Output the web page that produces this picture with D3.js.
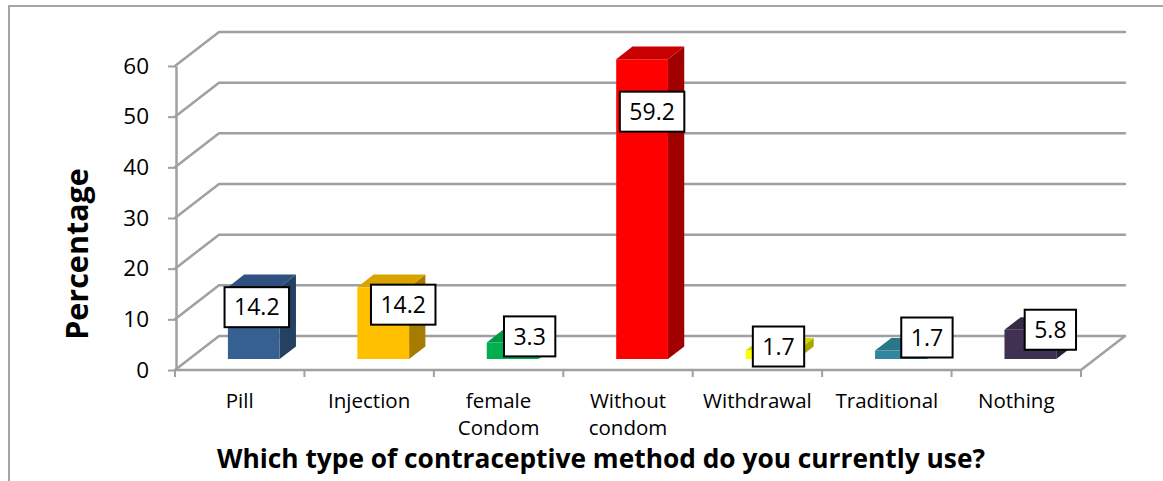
<!DOCTYPE html>
<html>
<head>
<meta charset="utf-8">
<script src="https://cdn.jsdelivr.net/npm/d3@7"></script>
<style>
  html, body { margin: 0; padding: 0; background: #fff; }
  svg { display: block; font-family: "Open Sans", Lato, sans-serif; }
</style>
</head>
<body>
<svg id="chart" width="1163" height="481"></svg>
<script>
// ---- data ----
const categories = ["Pill", "Injection", "female Condom", "Without condom", "Withdrawal", "Traditional", "Nothing"];
const values = [14.2, 14.2, 3.3, 59.2, 1.7, 1.7, 5.8];
const yTicks = [0, 10, 20, 30, 40, 50, 60];
const yTitle = "Percentage";
const xTitle = "Which type of contraceptive method do you currently use?";

// ---- styling ----
const frontColors = ["#376092", "#ffc000", "#00b050", "#ff0000", "#ffff00", "#31859c", "#403152"];
const topColors   = ["#2e5180", "#d9a300", "#009a45", "#c80000", "#d6d600", "#2b768b", "#372a47"];
const sideColors  = ["#254061", "#a67c00", "#007a36", "#a00000", "#a6a600", "#215968", "#2a2036"];
// label box nudges relative to the front-top centre of each column
const labelNudge = [[3, 20], [20, 17.5], [17, -6], [10, 52.5], [7, -4], [26, -13], [20, 0]];

const svg = d3.select("#chart");
const gridColor = "#a0a0a0";

// chart frame
svg.append("rect")
  .attr("x", 9).attr("y", 6).attr("width", 1180).attr("height", 500)
  .attr("fill", "none").attr("stroke", "#a6a6a6").attr("stroke-width", 2);

// plot geometry (front plane) and oblique depth
const x = d3.scaleBand().domain(categories).range([175, 1081]).paddingInner(0).paddingOuter(0);
const y = d3.scaleLinear().domain([0, 60]).range([370, 66]);
const depthX = 44, depthY = 34;
const d0 = 0.32, d1 = 0.69;         // column depth span as a fraction of the floor
const barFrac = 0.40;               // column width as a fraction of the band

const proj = (px, py, d) => [px + d * depthX, py - d * depthY];

const walls = svg.append("g").attr("fill", "none").attr("stroke", gridColor)
  .attr("stroke-width", 2.5).attr("stroke-linecap", "round");

const [x0, x1] = x.range();
// back wall gridlines and left wall gridlines
yTicks.forEach(t => {
  const a = proj(x0, y(t), 0), b = proj(x0, y(t), 1), c = proj(x1, y(t), 1);
  walls.append("path").attr("d", d3.line()([a, b, c]));
});
// floor: front edge and right edge
walls.append("path").attr("d", d3.line()([proj(x0, y(0), 0), proj(x1, y(0), 0), proj(x1, y(0), 1)]));

// category tick marks at band boundaries
const bounds = categories.map(c => x(c)).concat([x1]);
svg.append("g").selectAll("line").data(bounds).join("line")
  .attr("x1", d => d).attr("x2", d => d)
  .attr("y1", y(0)).attr("y2", y(0) + 7)
  .attr("stroke", gridColor).attr("stroke-width", 2);

// value axis
const yAxis = d3.axisLeft(y).tickValues(yTicks).tickSize(8).tickSizeOuter(0).tickPadding(19);
const gy = svg.append("g").attr("transform", `translate(${x0 + 1},0)`).call(yAxis);
gy.select(".domain").attr("stroke", gridColor).attr("stroke-width", 2.5);
gy.selectAll(".tick line").attr("stroke", gridColor).attr("stroke-width", 2);
gy.selectAll(".tick text").attr("fill", "#000").style("font-size", "22.5px")
  .style("font-family", "'Open Sans', sans-serif");

// columns
const bars = svg.append("g");
categories.forEach((c, i) => {
  const v = values[i];
  const bw = x.bandwidth() * barFrac;
  const left = x(c) + (x.bandwidth() - bw) / 2;
  const right = left + bw;
  const yb = y(0), yt = y(v);
  const fBL = proj(left, yb, d0), fBR = proj(right, yb, d0);
  const fTL = proj(left, yt, d0), fTR = proj(right, yt, d0);
  const bBR = proj(right, yb, d1), bTL = proj(left, yt, d1), bTR = proj(right, yt, d1);
  const line = d3.line();
  bars.append("path").attr("d", line([fBR, bBR, bTR, fTR]) + "Z").attr("fill", sideColors[i]);
  bars.append("path").attr("d", line([fTL, fTR, bTR, bTL]) + "Z").attr("fill", topColors[i]);
  bars.append("path").attr("d", line([fBL, fBR, fTR, fTL]) + "Z").attr("fill", frontColors[i]);
});

// data labels
const labels = svg.append("g");
categories.forEach((c, i) => {
  const v = values[i];
  const bw = x.bandwidth() * barFrac;
  const left = x(c) + (x.bandwidth() - bw) / 2;
  const [fx, fy] = proj(left + bw / 2, y(v), d0);
  const cx = fx + labelNudge[i][0], cy = fy + labelNudge[i][1];
  const g = labels.append("g");
  const t = g.append("text").attr("x", cx).attr("y", cy).attr("dy", "0.36em")
    .attr("text-anchor", "middle").style("font-size", "23px").attr("fill", "#000")
    .text(d3.format(".1f")(v));
  const w = t.node().getComputedTextLength() + 19;
  g.insert("rect", "text").attr("x", cx - w / 2).attr("y", cy - 20).attr("width", w).attr("height", 40)
    .attr("fill", "#fff").attr("stroke", "#000").attr("stroke-width", 2);
});

// category labels, wrapped when wider than the band
const catG = svg.append("g").style("font-size", "20.5px").attr("fill", "#000");
categories.forEach(c => {
  const cx = x(c) + x.bandwidth() / 2;
  const t = catG.append("text").attr("x", cx).attr("y", 408).attr("text-anchor", "middle").text(c);
  if (t.node().getComputedTextLength() > 122) {
    const words = c.split(" ");
    t.text(null);
    words.forEach((w, k) => {
      t.append("tspan").attr("x", cx).attr("dy", k === 0 ? 0 : 27).text(w);
    });
  }
});

// axis titles
svg.append("text")
  .attr("transform", `translate(88,254) rotate(-90)`)
  .attr("text-anchor", "middle").style("font-size", "30.5px").style("font-weight", "bold")
  .attr("fill", "#000").text(yTitle);
svg.append("text")
  .attr("x", 601).attr("y", 468).attr("text-anchor", "middle")
  .style("font-size", "26.3px").style("font-weight", "bold").attr("fill", "#000").text(xTitle);
</script>
</body>
</html>
